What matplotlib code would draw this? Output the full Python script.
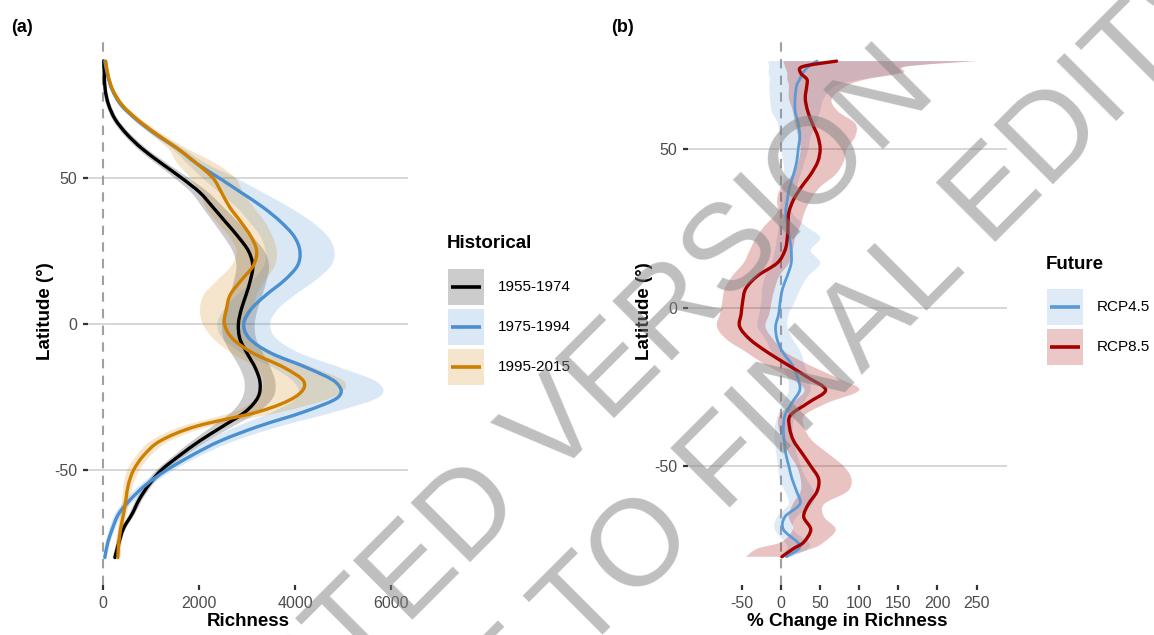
import matplotlib.pyplot as plt
from matplotlib.patches import Rectangle, PathPatch
from matplotlib.lines import Line2D
from matplotlib.path import Path

plt.rcParams['font.family'] = ['Liberation Sans', 'DejaVu Sans']
plt.rcParams['axes.unicode_minus'] = False

# panel (a): richness by latitude for three historical periods
lat_a = [90, 85, 80, 75, 70, 65, 60, 55, 50, 45, 40, 35, 30, 25, 20, 15, 10, 5, 0,
         -5, -10, -15, -20, -25, -30, -35, -40, -45, -50, -55, -60, -65, -70, -75, -80]
rich_1955 = [20, 30, 50, 120, 260, 500, 820, 1220, 1640, 2020, 2290, 2550, 2810, 3030, 3120, 3070, 2980, 2880, 2820,
             2850, 3000, 3170, 3270, 3230, 2970, 2500, 2020, 1600, 1220, 960, 760, 610, 430, 330, 250]
rich_1975 = [40, 100, 200, 380, 700, 1100, 1560, 1950, 2420, 2880, 3330, 3700, 3980, 4100, 4050, 3780, 3400, 3080, 2930,
             3050, 3500, 4250, 4850, 4900, 4200, 3250, 2450, 1850, 1330, 900, 580, 330, 200, 100, 40]
rich_1995 = [60, 110, 210, 400, 720, 1120, 1560, 1950, 2290, 2470, 2640, 2870, 3080, 3200, 3130, 2880, 2650, 2570, 2530,
             2700, 3125, 3780, 4190, 4000, 3250, 1950, 1200, 850, 640, 530, 480, 430, 370, 330, 310]
spread_1955 = [20, 30, 40, 50, 60, 80, 100, 120, 150, 180, 220, 260, 300, 330, 340, 340, 340, 340, 340,
               340, 330, 320, 320, 320, 280, 220, 160, 120, 100, 80, 70, 60, 50, 50, 50]
spread_1975 = [20, 30, 40, 50, 70, 90, 120, 200, 350, 450, 550, 650, 700, 720, 700, 650, 600, 560, 550,
               560, 600, 700, 870, 850, 650, 450, 300, 200, 150, 120, 100, 80, 60, 50, 40]
spread_1995 = [20, 30, 40, 60, 90, 130, 200, 400, 470, 450, 500, 500, 450, 420, 450, 500, 550, 550, 450,
               400, 450, 600, 850, 800, 500, 300, 200, 150, 130, 100, 80, 70, 60, 60, 60]
periods = ['1955-1974', '1975-1994', '1995-2015']
period_colors = ['#000000', '#4a8fd0', '#cf7f00']

# panel (b): % change in richness under two future scenarios
lat_b = [77.7, 76, 74, 72, 70, 66, 62, 58, 54, 50, 46, 42, 38, 34, 30, 26, 22, 18, 14, 10, 6, 2,
         -2, -6, -10, -14, -18, -22, -26, -30, -34, -38, -42, -46, -50, -54, -58, -62, -66, -70, -74, -76, -78.6]
rcp45 = [46, 35, 28, 24, 20, 18, 18, 22, 24, 22, 20, 16, 11, 8, 6, 8, 11, 13, 13, 8, 2, -1,
         -3, -7, -5, 2, 14, 21, 24, 14, 5, 3, 4, 6, 10, 14, 20, 24, 5, 3, 21, 23, 7]
rcp45_lo = [-17, -15, -16, -14, -15, -14, -12, -4, -2, 0, 3, 4, 2, 0, -2, -3, -5, -8, -12, -20, -24, -25,
            -28, -30, -20, -12, 0, 8, 10, 3, -4, -8, -8, -6, -4, -2, 5, 10, -5, -8, 5, 8, 0]
rcp45_hi = [245, 160, 150, 105, 70, 55, 50, 45, 38, 35, 30, 25, 20, 16, 14, 30, 50, 38, 50, 35, 25, 18,
            10, 8, 15, 25, 30, 35, 38, 28, 18, 15, 16, 20, 25, 32, 42, 40, 20, 15, 35, 35, 15]
rcp85 = [71, 28, 25, 33, 33, 31, 34, 40, 47, 50, 47, 38, 26, 16, 10, 9, 8, 5, -5, -30, -45, -49,
         -51, -53, -40, -18, 8, 34, 57, 35, 12, 11, 16, 27, 38, 48, 46, 35, 29, 38, 29, 16, 1]
rcp85_lo = [3, 5, 8, 8, 10, 10, 15, 18, 22, 25, 22, 15, 0, -5, -5, -20, -32, -40, -48, -62, -72, -75,
            -78, -82, -70, -45, -20, 10, 30, 15, -2, -3, 3, 10, 20, 25, 25, 15, 10, 15, 0, -30, -45]
rcp85_hi = [250, 160, 156, 110, 85, 65, 72, 95, 95, 84, 80, 70, 50, 38, 30, 25, 18, 15, 10, -2, -8, -12,
            -15, -20, -10, 5, 35, 70, 100, 60, 30, 30, 40, 60, 80, 90, 85, 55, 55, 70, 55, 40, 5]
scenarios = ['RCP4.5', 'RCP8.5']
scenario_colors = ['#5b9bd5', '#a50000']

W, H = 1154, 635
fig = plt.figure(figsize=(W / 100, H / 100), dpi=100)


def curve_segments(xs, ys):
    # Catmull-Rom through the points, written as cubic Bezier pieces
    pts = list(zip(xs, ys))
    n = len(pts)
    verts, codes = [], []
    for i in range(n - 1):
        p0, p1 = pts[max(i - 1, 0)], pts[i]
        p2, p3 = pts[i + 1], pts[min(i + 2, n - 1)]
        c1 = (p1[0] + (p2[0] - p0[0]) / 6, p1[1] + (p2[1] - p0[1]) / 6)
        c2 = (p2[0] - (p3[0] - p1[0]) / 6, p2[1] - (p3[1] - p1[1]) / 6)
        verts += [c1, c2, p2]
        codes += [Path.CURVE4] * 3
    return verts, codes


def smooth_line(ax, xs, ys, **kw):
    v, c = curve_segments(xs, ys)
    path = Path([(xs[0], ys[0])] + v, [Path.MOVETO] + c)
    ax.add_patch(PathPatch(path, fill=False, capstyle='round', joinstyle='round', **kw))


def smooth_band(ax, lo, hi, ys, **kw):
    v1, c1 = curve_segments(hi, ys)
    v2, c2 = curve_segments(lo[::-1], ys[::-1])
    verts = [(hi[0], ys[0])] + v1 + [(lo[-1], ys[-1])] + v2 + [(hi[0], ys[0])]
    codes = [Path.MOVETO] + c1 + [Path.LINETO] + c2 + [Path.CLOSEPOLY]
    ax.add_patch(PathPatch(Path(verts, codes), lw=0, **kw))


def add_panel(left, top, right, bottom):
    ax = fig.add_axes([left / W, 1 - bottom / H, (right - left) / W, (bottom - top) / H])
    for s in ax.spines.values():
        s.set_visible(False)
    ax.yaxis.grid(True, color='#d4d4d4', lw=1.3)
    ax.set_axisbelow(True)
    ax.tick_params(length=3.6, width=1.6, color='#333333', labelcolor='#4d4d4d',
                   labelsize=11.5, pad=4)
    ax.axvline(0, color='#a0a0a0', lw=1.5, ls=(0, (4.5, 3.5)), zorder=1)
    return ax


def fx(x):
    return x / W


def fy(y):
    return 1 - y / H


def legend_block(x, y_title, y_keys, title, labels, colors, alphas, lw):
    fig.text(fx(x), fy(y_title), title, fontsize=13.5, fontweight='bold', va='center', ha='left')
    for yk, lab, c, a in zip(y_keys, labels, colors, alphas):
        fig.add_artist(Rectangle((fx(x + 1), fy(yk + 18)), 36 / W, 36 / H,
                                 transform=fig.transFigure, facecolor=c, alpha=a, lw=0))
        fig.add_artist(Line2D([fx(x + 4), fx(x + 34)], [fy(yk), fy(yk)],
                              transform=fig.transFigure, color=c, lw=lw, solid_capstyle='butt'))
        fig.text(fx(x + 51), fy(yk), lab, fontsize=11, va='center', ha='left')


# (a) historical richness
ax1 = add_panel(88, 37, 408, 585)
for r, sp, c in zip([rich_1955, rich_1975, rich_1995], [spread_1955, spread_1975, spread_1995], period_colors):
    smooth_band(ax1, [v - s for v, s in zip(r, sp)], [v + s for v, s in zip(r, sp)], lat_a,
                color=c, alpha=0.2, zorder=2)
for r, c in zip([rich_1955, rich_1975, rich_1995], period_colors):
    smooth_line(ax1, r, lat_a, edgecolor=c, lw=2.4, zorder=3)
ax1.set_xlim(-310, 6350)
ax1.set_ylim(-89.4, 98.3)
ax1.set_xticks([0, 2000, 4000, 6000])
ax1.set_yticks([-50, 0, 50])

# (b) future change
ax2 = add_panel(688, 37, 1007, 585)
smooth_band(ax2, rcp45_lo, rcp45_hi, lat_b, color=scenario_colors[0], alpha=0.2, zorder=2)
smooth_band(ax2, rcp85_lo, rcp85_hi, lat_b, color=scenario_colors[1], alpha=0.24, zorder=2)
smooth_line(ax2, rcp45, lat_b, edgecolor=scenario_colors[0], lw=2.0, zorder=3)
smooth_line(ax2, rcp85, lat_b, edgecolor=scenario_colors[1], lw=2.4, zorder=3)
ax2.set_xlim(-119, 289)
ax2.set_ylim(-87.5, 85.3)
ax2.set_xticks([-50, 0, 50, 100, 150, 200, 250])
ax2.set_yticks([-50, 0, 50])

# titles and axis labels
fig.text(fx(22), fy(28), '(a)', fontsize=13, fontweight='bold', ha='center', va='center')
fig.text(fx(622), fy(28), '(b)', fontsize=13, fontweight='bold', ha='center', va='center')
for xc in (46, 645):
    fig.text(fx(xc), fy(311), 'Latitude (°)', fontsize=13.5, fontweight='bold',
             rotation=90, ha='center', va='center')
fig.text(fx(248), fy(622), 'Richness', fontsize=13.5, fontweight='bold', ha='center', va='center')
fig.text(fx(847), fy(622), '% Change in Richness', fontsize=13.5, fontweight='bold', ha='center', va='center')

legend_block(447, 243, [287, 327, 367], 'Historical', periods, period_colors, [0.2, 0.2, 0.2], 2.6)
legend_block(1046, 265, [307, 347], 'Future', scenarios, scenario_colors, [0.2, 0.22], 2.6)

# manuscript stamp across the figure
stamp = dict(fontsize=88, color='#808080', alpha=0.5, rotation=45, rotation_mode='anchor',
             ha='center', va='center', family='Liberation Sans', zorder=10)
fig.text(fx(475), fy(513), 'ACCEPTED VERSION', **stamp)
fig.text(fx(682), fy(510), 'SUBJECT TO FINAL EDITS', **stamp)

fig.savefig('out.png', dpi=100)
